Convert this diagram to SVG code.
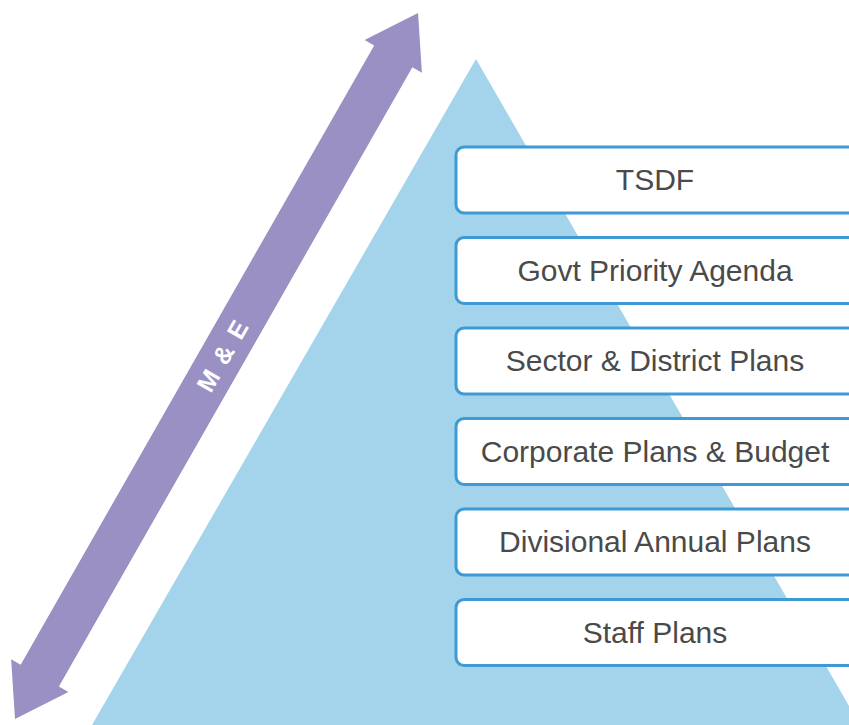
<svg xmlns="http://www.w3.org/2000/svg" width="849" height="725" viewBox="0 0 849 725">
<style>
.box rect{fill:#ffffff;stroke:#3E9AD4;stroke-width:3}
.box text{font-family:"Liberation Sans",Arial,sans-serif;font-size:30px;fill:#4A4A4A;text-anchor:middle}
.me{font-family:"Liberation Sans",Arial,sans-serif;font-size:25px;font-weight:bold;fill:#ffffff;text-anchor:middle;letter-spacing:2px}
</style>
<rect width="849" height="725" fill="#ffffff"/>
<g id="pyramid">
<polygon points="476,59 92,725 860,725" fill="#A3D4EC"/>
</g>
<g id="connectors">
<g transform="translate(15,719) rotate(-60.28)">
<polygon points="0,0 50,-33 50,-22 763,-22 763,-33 813,0 763,33 763,22 50,22 50,33" fill="#9A90C3"/>
<text class="me" x="419" y="9">M &amp; E</text>
</g>
</g>
<g id="tsdf" class="box"><rect x="456" y="147" width="410" height="66" rx="8"/><text x="655" y="190">TSDF</text></g>
<g id="govt" class="box"><rect x="456" y="237.5" width="410" height="66" rx="8"/><text x="655" y="280.5">Govt Priority Agenda</text></g>
<g id="sector" class="box"><rect x="456" y="328" width="410" height="66" rx="8"/><text x="655" y="371">Sector &amp; District Plans</text></g>
<g id="corporate" class="box"><rect x="456" y="418.5" width="410" height="66" rx="8"/><text x="655" y="461.5">Corporate Plans &amp; Budget</text></g>
<g id="divisional" class="box"><rect x="456" y="509" width="410" height="66" rx="8"/><text x="655" y="552">Divisional Annual Plans</text></g>
<g id="staff" class="box"><rect x="456" y="599.5" width="410" height="66" rx="8"/><text x="655" y="642.5">Staff Plans</text></g>
</svg>
